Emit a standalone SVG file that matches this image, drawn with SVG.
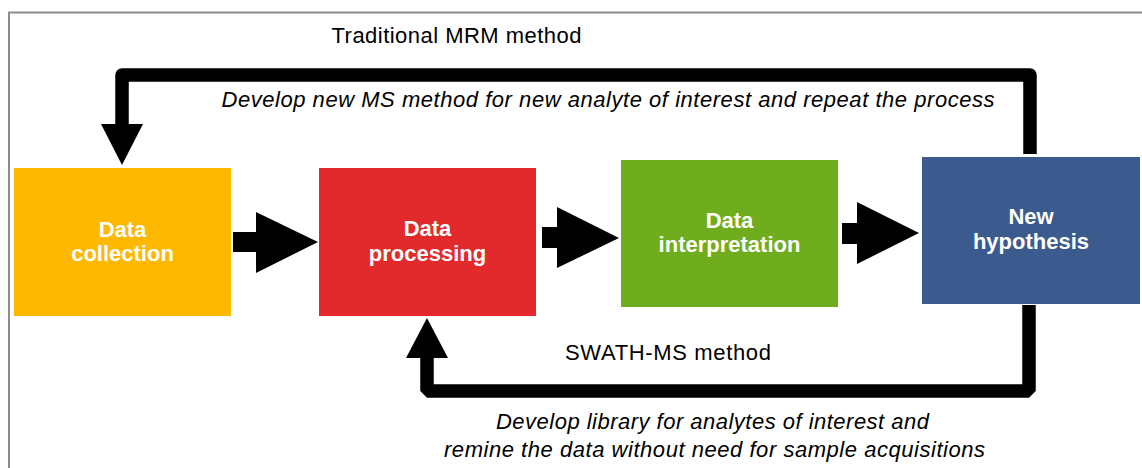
<svg xmlns="http://www.w3.org/2000/svg" width="1142" height="468" viewBox="0 0 1142 468">
<style>
.box-label{font-family:"Liberation Sans",Arial,sans-serif;font-weight:bold;font-size:22px;fill:#ffffff;text-anchor:middle}
.title{font-family:"Liberation Sans",Arial,sans-serif;font-size:22px;fill:#000000}
.note{font-family:"Liberation Sans",Arial,sans-serif;font-style:italic;font-size:22px;fill:#000000}
.loop{fill:none;stroke:#000000;stroke-width:13.5}
.head{fill:#000000}
</style>
<rect x="9" y="12.5" width="1145" height="470" fill="#ffffff" stroke="#8c8c8c" stroke-width="2"/>
<g id="node-data-collection">
<rect x="14" y="168" width="217" height="148" fill="#FFB800"/>
<text class="box-label" x="122.5" y="236.5">Data</text>
<text class="box-label" x="122.5" y="261">collection</text>
</g>
<g id="node-data-processing">
<rect x="319" y="168" width="217" height="148" fill="#E2292B"/>
<text class="box-label" x="427.5" y="236">Data</text>
<text class="box-label" x="427.5" y="260.5">processing</text>
</g>
<g id="node-data-interpretation">
<rect x="621" y="160" width="217" height="147" fill="#70AD1E"/>
<text class="box-label" x="729.5" y="227.5">Data</text>
<text class="box-label" x="729.5" y="251.5">interpretation</text>
</g>
<g id="node-new-hypothesis">
<rect x="922" y="157" width="218" height="147" fill="#3B5A8E"/>
<text class="box-label" x="1031" y="224">New</text>
<text class="box-label" x="1031" y="249">hypothesis</text>
</g>
<g id="connectors">
<polygon class="head" points="233,232 256,232 256,212 318,242 256,273 256,252 233,252"/>
<polygon class="head" points="542,227 557,227 557,207 619,238 557,268 557,248 542,248"/>
<polygon class="head" points="842,223 857,223 857,202 919,233 857,264 857,244 842,244"/>
<path class="loop" d="M1030 154 V75 H122 V126" stroke-linejoin="round"/>
<polygon class="head" points="101,124 143,124 122,165"/>
<path class="loop" d="M1029 305 V391 H427 V356" stroke-linejoin="bevel"/>
<polygon class="head" points="406,358 448,358 427,318"/>
</g>
<g id="labels">
<text class="title" x="331.5" y="43.3" textLength="250" lengthAdjust="spacing">Traditional MRM method</text>
<text class="note" x="221.5" y="107.3" textLength="773" lengthAdjust="spacing">Develop new MS method for new analyte of interest and repeat the process</text>
<text class="title" x="565" y="360" textLength="206" lengthAdjust="spacing">SWATH-MS method</text>
<text class="note" x="496" y="429" textLength="433" lengthAdjust="spacing">Develop library for analytes of interest and</text>
<text class="note" x="444" y="457" textLength="541" lengthAdjust="spacing">remine the data without need for sample acquisitions</text>
</g>
</svg>
